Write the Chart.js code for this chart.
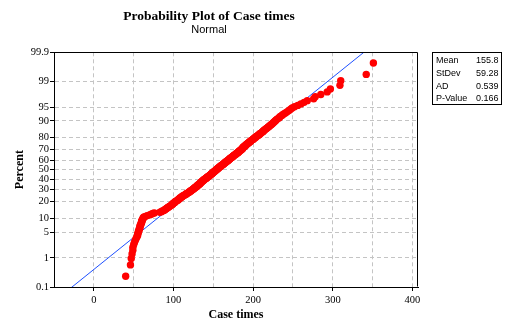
<!DOCTYPE html>
<html>
<head>
<meta charset="utf-8">
<script src="https://cdn.jsdelivr.net/npm/chart.js@4.4.0/dist/chart.umd.min.js"></script>
<style>
  html, body { margin: 0; padding: 0; background: #fff; }
</style>
</head>
<body>
<canvas id="chart" width="506" height="322"></canvas>
<script>
// sorted case times
const caseTimes = [
  40, 46, 47, 48, 49, 49, 50, 51, 52, 53,
  54, 55, 55, 56, 56, 57, 57, 58, 58, 58,
  59, 59, 60, 60, 60, 61, 61, 62, 62, 63,
  65, 67, 70, 72, 74, 76, 83, 85, 86, 88,
  89, 90, 91, 92, 93, 94, 95, 96, 97, 98,
  99, 99, 100, 101, 102, 102, 103, 104, 105, 106,
  106, 107, 108, 108, 109, 110, 111, 111, 112, 113,
  114, 115, 116, 116, 117, 118, 119, 120, 120, 121,
  122, 122, 123, 124, 124, 125, 126, 126, 127, 127,
  128, 129, 129, 130, 130, 131, 131, 132, 133, 133,
  133, 134, 134, 135, 135, 136, 136, 137, 137, 138,
  138, 139, 139, 140, 141, 141, 142, 142, 143, 143,
  144, 145, 145, 146, 146, 147, 147, 148, 148, 149,
  149, 150, 150, 151, 151, 152, 152, 153, 153, 154,
  154, 155, 155, 156, 156, 157, 157, 158, 158, 159,
  159, 160, 160, 161, 162, 162, 163, 163, 164, 164,
  165, 165, 166, 166, 167, 168, 168, 169, 169, 170,
  170, 171, 171, 172, 172, 173, 174, 174, 175, 175,
  176, 176, 177, 178, 178, 179, 179, 180, 181, 181,
  182, 182, 183, 183, 184, 185, 185, 186, 186, 187,
  187, 187, 188, 188, 189, 190, 190, 191, 191, 192,
  193, 193, 194, 195, 195, 196, 197, 197, 198, 199,
  200, 200, 201, 202, 203, 203, 204, 205, 206, 207,
  208, 208, 209, 210, 211, 212, 213, 213, 214, 215,
  216, 217, 218, 219, 220, 221, 222, 223, 224, 225,
  226, 227, 228, 229, 230, 232, 233, 234, 236, 237,
  239, 241, 243, 245, 247, 249, 252, 256, 260, 264,
  268, 276, 278, 285, 293, 297, 309, 310, 342, 351
];

const percentTicks = [0.1, 1, 5, 10, 20, 30, 40, 50, 60, 70, 80, 90, 95, 99, 99.9];
const percentLabels = ['0.1', '1', '5', '10', '20', '30', '40', '50', '60', '70', '80', '90', '95', '99', '99.9'];
const xTickValues = [0, 50, 100, 150, 200, 250, 300, 350, 400];
const xTickLabels = ['0', '', '100', '', '200', '', '300', '', '400'];

const statNames = ['Mean', 'StDev', 'AD', 'P-Value'];
const statValues = ['155.8', '59.28', '0.539', '0.166'];
const fitMean = 155.8;
const fitStDev = 59.28;

const xMin = -50;
const xMax = 407;

// inverse normal cdf (Acklam)
function probit(p) {
    const a = [-3.969683028665376e+01, 2.209460984245205e+02, -2.759285104469687e+02, 1.383577518672690e+02, -3.066479806614716e+01, 2.506628277459239e+00];
    const b = [-5.447609879822406e+01, 1.615858368580409e+02, -1.556989798598866e+02, 6.680131188771972e+01, -1.328068155288572e+01];
    const c = [-7.784894002430293e-03, -3.223964580411365e-01, -2.400758277161838e+00, -2.549732539343734e+00, 4.374664141464968e+00, 2.938163982698783e+00];
    const d = [7.784695709041462e-03, 3.224671290700398e-01, 2.445134137142996e+00, 3.754408661907416e+00];
    const pl = 0.02425;
    let q, r;
    if (p < pl) {
        q = Math.sqrt(-2 * Math.log(p));
        return (((((c[0] * q + c[1]) * q + c[2]) * q + c[3]) * q + c[4]) * q + c[5]) / ((((d[0] * q + d[1]) * q + d[2]) * q + d[3]) * q + 1);
    }
    if (p > 1 - pl) {
        q = Math.sqrt(-2 * Math.log(1 - p));
        return -(((((c[0] * q + c[1]) * q + c[2]) * q + c[3]) * q + c[4]) * q + c[5]) / ((((d[0] * q + d[1]) * q + d[2]) * q + d[3]) * q + 1);
    }
    q = p - 0.5;
    r = q * q;
    return (((((a[0] * r + a[1]) * r + a[2]) * r + a[3]) * r + a[4]) * r + a[5]) * q / (((((b[0] * r + b[1]) * r + b[2]) * r + b[3]) * r + b[4]) * r + 1);
}

const n = caseTimes.length;
// median rank plotting positions
const points = caseTimes.map((v, i) => ({ x: v, y: probit((i + 1 - 0.3) / (n + 0.4)) }));
const fitLine = [xMin, xMax].map(x => ({ x: x, y: (x - fitMean) / fitStDev }));

const zLo = probit(percentTicks[0] / 100);
const zHi = probit(percentTicks[percentTicks.length - 1] / 100);

const serif = 'Liberation Serif';
const sans = 'Liberation Sans';

const framePlugin = {
    id: 'frame',
    afterDraw: (chart) => {
        const { ctx, chartArea } = chart;
        const l = Math.round(chartArea.left) + 0.5;
        const t = Math.round(chartArea.top) + 0.5;
        const r = Math.round(chartArea.right) - 0.5;
        const b = Math.round(chartArea.bottom) - 0.5;
        ctx.save();
        ctx.strokeStyle = '#000';
        ctx.lineWidth = 1;
        ctx.beginPath();
        ctx.moveTo(l, t);
        ctx.lineTo(r, t);
        ctx.lineTo(r, b);
        ctx.stroke();

        // stats box
        const bx = Math.round(chartArea.right) + 14.5;
        const by = t;
        ctx.strokeRect(bx, by, 69, 52);
        ctx.fillStyle = '#000';
        ctx.font = '9px ' + sans;
        ctx.textBaseline = 'middle';
        statNames.forEach((name, i) => {
            const y = by + 8.5 + i * 12.6;
            ctx.textAlign = 'left';
            ctx.fillText(name, bx + 3.5, y);
            ctx.textAlign = 'right';
            ctx.fillText(statValues[i], bx + 66, y);
        });
        ctx.restore();
    }
};

const ctx = document.getElementById('chart').getContext('2d');
new Chart(ctx, {
    type: 'scatter',
    data: {
        datasets: [{
            data: points,
            backgroundColor: '#ff0000',
            borderColor: '#ff0000',
            borderWidth: 0,
            pointRadius: 3.7
        }, {
            type: 'line',
            data: fitLine,
            borderColor: '#1e50ff',
            borderWidth: 1,
            pointRadius: 0,
            fill: false
        }]
    },
    options: {
        responsive: false,
        animation: false,
        layout: {
            padding: { left: 0, right: 88, top: 0, bottom: 0 }
        },
        scales: {
            x: {
                type: 'linear',
                min: xMin,
                max: xMax,
                afterBuildTicks: (s) => { s.ticks = xTickValues.map(v => ({ value: v })); },
                afterFit: (s) => { s.height = 35; },
                ticks: {
                    autoSkip: false,
                    maxRotation: 0,
                    color: '#000',
                    padding: 3,
                    font: { family: serif, size: 10.5 },
                    callback: (v, i) => xTickLabels[i]
                },
                grid: {
                    color: '#c4c4c4',
                    tickLength: 4,
                    tickBorderDash: [],
                    tickColor: (c) => (c.tick && c.tick.value % 100 === 0) ? '#000' : 'rgba(0,0,0,0)'
                },
                border: { color: '#000', width: 1, dash: [4, 3] },
                title: {
                    display: true,
                    text: 'Case times',
                    color: '#000',
                    font: { family: serif, size: 12, weight: 'bold' },
                    padding: { top: 0, bottom: 0 }
                }
            },
            y: {
                type: 'linear',
                min: zLo,
                max: zHi,
                afterBuildTicks: (s) => { s.ticks = percentTicks.map(p => ({ value: probit(p / 100) })); },
                afterFit: (s) => { s.width = 54; },
                ticks: {
                    autoSkip: false,
                    color: '#000',
                    padding: 1,
                    font: { family: serif, size: 10.5 },
                    callback: (v, i) => percentLabels[i]
                },
                grid: {
                    color: '#c4c4c4',
                    tickLength: 4,
                    tickBorderDash: [],
                    tickColor: '#000'
                },
                border: { color: '#000', width: 1, dash: [4, 3] },
                title: {
                    display: true,
                    text: 'Percent',
                    color: '#000',
                    font: { family: serif, size: 12, weight: 'bold' },
                    padding: { top: 13, bottom: 0 }
                }
            }
        },
        plugins: {
            legend: { display: false },
            tooltip: { enabled: false },
            title: {
                display: true,
                text: 'Probability Plot of Case times',
                color: '#000',
                font: { family: serif, size: 13.5, weight: 'bold' },
                padding: { top: 8, bottom: 0 }
            },
            subtitle: {
                display: true,
                text: 'Normal',
                color: '#000',
                font: { family: sans, size: 11, lineHeight: 1.1 },
                padding: { top: 0, bottom: 16 }
            }
        }
    },
    plugins: [framePlugin]
});
</script>
</body>
</html>
